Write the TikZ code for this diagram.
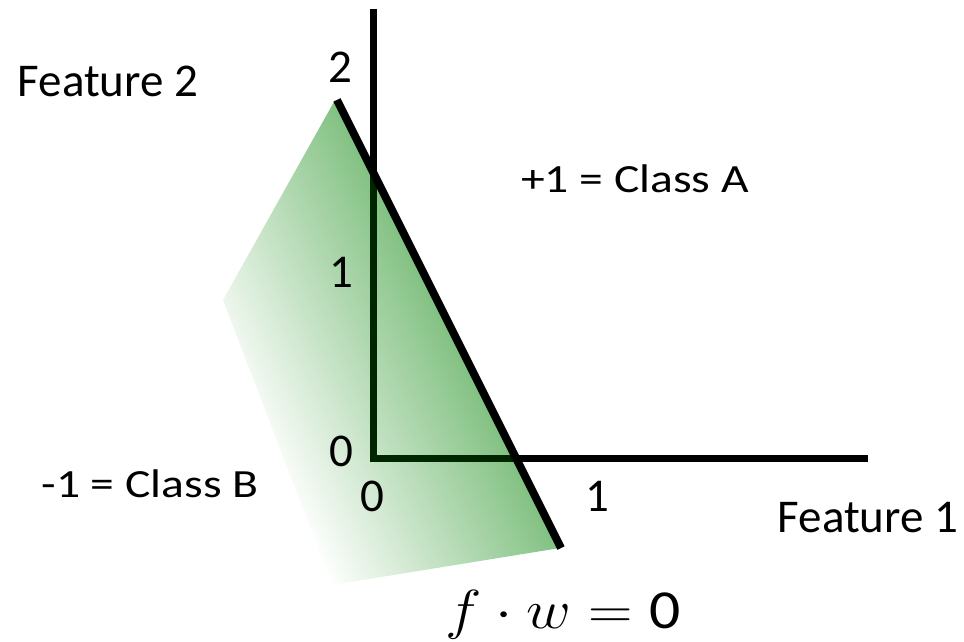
\RequirePackage{fix-cm}
\documentclass[tikz,border=0pt]{standalone}
\usepackage{fontspec}
\setmainfont{Carlito}
\definecolor{regiongreen}{RGB}{128,192,128}
\definecolor{axisgreen}{RGB}{0,38,0}
\begin{document}
\begin{tikzpicture}[x=1pt,y=1pt,
  biglabel/.style={font=\fontsize{47}{50}\selectfont, inner sep=0pt, anchor=base},
  classlabel/.style={font=\fontsize{40}{44}\selectfont, inner sep=0pt, anchor=base, xscale=1.19},
  axisline/.style={line width=7pt},
  boundary/.style={line width=8pt}]
\useasboundingbox (0,0) rectangle (964,641);
% axes
\coordinate (ytop) at (373,632);
\coordinate (orig) at (373,183);
\coordinate (xend) at (868,183);
% decision boundary
\coordinate (L1) at (337,541);
\coordinate (L2) at (561,93);
% shaded region
\coordinate (A) at (335,541);
\coordinate (B) at (223,341);
\coordinate (C) at (332,56);
\coordinate (D) at (560,93);

\draw[axisline] (ytop) -- (orig) -- (xend);
\begin{scope}
  \clip (A) -- (B) -- (C) -- (D) -- cycle;
  \begin{scope}[transform canvas={rotate=26.565}]
    \shade[left color=white, right color=regiongreen] (320,-220) rectangle (545,420);
  \end{scope}
  \draw[axisline, draw=axisgreen] (ytop) -- (orig) -- (xend);
\end{scope}
\draw[boundary] (L1) -- (L2);

\node[biglabel] (f2) at (108,544) {Feature 2};
\node[biglabel] (t2) at (340,558) {2};
\node[biglabel] (t1y) at (341,353) {1};
\node[biglabel] (t0y) at (341,175) {0};
\node[biglabel] (t0x) at (372,130) {0};
\node[biglabel] (t1x) at (597,130) {1};
\node[biglabel] (f1) at (868,109) {Feature 1};
\node[classlabel] (ca) at (635,448) {+1 = Class A};
\node[classlabel] (cb) at (150,144) {-1 = Class B};
\node[inner sep=0pt, anchor=base, xscale=1.12, font=\fontsize{55}{60}\selectfont] (eq) at (563,13) {$f\cdot w=\mbox{0}$};
\end{tikzpicture}
\end{document}
